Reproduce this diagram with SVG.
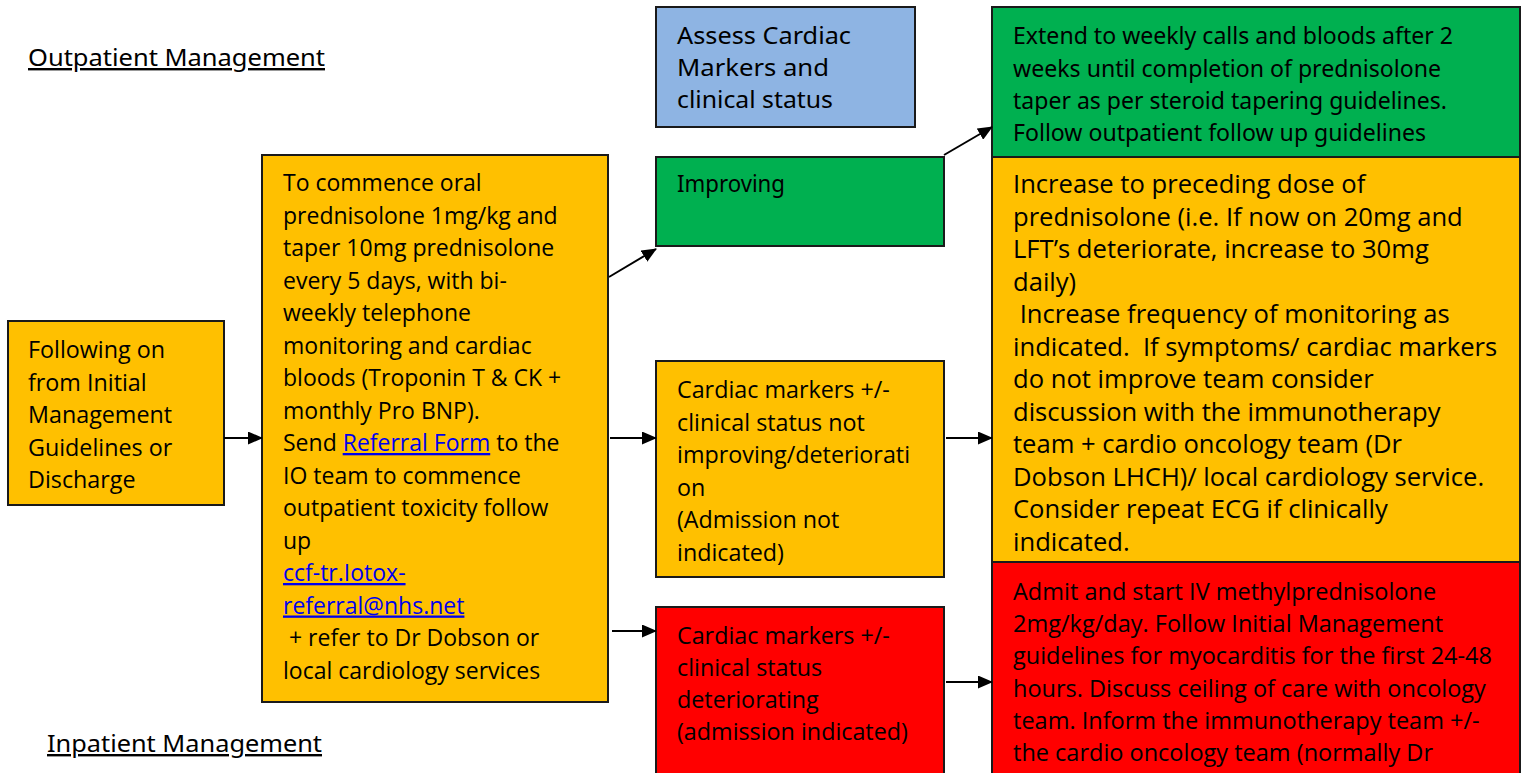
<svg xmlns="http://www.w3.org/2000/svg" width="1525" height="773" viewBox="0 0 1525 773">
<style>
.box{stroke:#1a1a1a;stroke-width:2}
.or{fill:#FFC000}.gr{fill:#00B050}.rd{fill:#FF0000}.bl{fill:#8EB4E3}
.t{font-family:"Open Sans","Noto Sans",sans-serif;font-size:23.3px;fill:#000;white-space:pre}
.big{font-size:25.6px}
.c{font-family:"Noto Sans","Open Sans",sans-serif;font-size:24px;fill:#000}
.lk{fill:#0000EE;text-decoration:underline}
.con{stroke:#000;stroke-width:2;fill:none;marker-end:url(#ah)}
</style>
<defs>
<marker id="ah" viewBox="0 0 15 13" refX="14" refY="6.5" markerWidth="15" markerHeight="13" markerUnits="userSpaceOnUse" orient="auto">
<path d="M0,0 L15,6.5 L0,13 z" fill="#000"/>
</marker>
</defs>
<rect width="1525" height="773" fill="#fff"/>

<g id="title-outpatient">
<text class="c" x="28" y="66" textLength="297" lengthAdjust="spacingAndGlyphs" style="text-decoration:underline">Outpatient Management</text>
</g>
<g id="title-inpatient">
<text class="c" x="47" y="752" textLength="275" lengthAdjust="spacingAndGlyphs" style="text-decoration:underline">Inpatient Management</text>
</g>

<g id="n-assess">
<rect class="box bl" x="656" y="7" width="259" height="120"/>
<text class="c"><tspan x="677" y="44" textLength="174" lengthAdjust="spacingAndGlyphs">Assess Cardiac</tspan><tspan x="677" y="76" textLength="152" lengthAdjust="spacingAndGlyphs">Markers and</tspan><tspan x="677" y="108" textLength="156" lengthAdjust="spacingAndGlyphs">clinical status</tspan></text>
</g>

<g id="n-extend">
<rect class="box gr" x="992" y="7" width="528" height="150"/>
<text class="c"><tspan x="1013" y="44" textLength="440" lengthAdjust="spacingAndGlyphs">Extend to weekly calls and bloods after 2</tspan><tspan x="1013" y="77" textLength="428" lengthAdjust="spacingAndGlyphs">weeks until completion of prednisolone</tspan><tspan x="1013" y="109" textLength="434" lengthAdjust="spacingAndGlyphs">taper as per steroid tapering guidelines.</tspan><tspan x="1013" y="141" textLength="413" lengthAdjust="spacingAndGlyphs">Follow outpatient follow up guidelines</tspan></text>
</g>

<g id="n-improving">
<rect class="box gr" x="656" y="157" width="288" height="89"/>
<text class="c" x="677" y="192" textLength="108" lengthAdjust="spacingAndGlyphs">Improving</text>
</g>

<g id="n-following">
<rect class="box or" x="8" y="321" width="216" height="184"/>
<text class="t"><tspan x="28" y="358">Following on</tspan><tspan x="28" y="390.5">from Initial</tspan><tspan x="28" y="423">Management</tspan><tspan x="28" y="455.5">Guidelines or</tspan><tspan x="28" y="488">Discharge</tspan></text>
</g>

<g id="n-commence">
<rect class="box or" x="262" y="155" width="346" height="547"/>
<text class="t" style="font-size:23px"><tspan x="283" y="191">To commence oral</tspan><tspan x="283" y="223.5">prednisolone 1mg/kg and</tspan><tspan x="283" y="256">taper 10mg prednisolone</tspan><tspan x="283" y="288.5">every 5 days, with bi-</tspan><tspan x="283" y="321">weekly telephone</tspan><tspan x="283" y="353.5">monitoring and cardiac</tspan><tspan x="283" y="386">bloods (Troponin T &amp; CK +</tspan><tspan x="283" y="418.5">monthly Pro BNP).</tspan><tspan x="283" y="451">Send </tspan><tspan class="lk">Referral Form</tspan><tspan> to the</tspan><tspan x="283" y="483.5">IO team to commence</tspan><tspan x="283" y="516">outpatient toxicity follow</tspan><tspan x="283" y="548.5">up</tspan><tspan x="283" y="581" class="lk">ccf-tr.Iotox-</tspan><tspan x="283" y="613.5" class="lk">referral@nhs.net</tspan><tspan x="283" y="646"> + refer to Dr Dobson or</tspan><tspan x="283" y="678.5">local cardiology services</tspan></text>
</g>

<g id="n-notimproving">
<rect class="box or" x="656" y="361" width="288" height="216"/>
<text class="t"><tspan x="677" y="398">Cardiac markers +/-</tspan><tspan x="677" y="430.5">clinical status not</tspan><tspan x="677" y="463">improving/deteriorati</tspan><tspan x="677" y="495.5">on</tspan><tspan x="677" y="528">(Admission not</tspan><tspan x="677" y="560.5">indicated)</tspan></text>
</g>

<g id="n-deteriorating">
<rect class="box rd" x="656" y="607" width="288" height="175"/>
<text class="t"><tspan x="677" y="644">Cardiac markers +/-</tspan><tspan x="677" y="676">clinical status</tspan><tspan x="677" y="708">deteriorating</tspan><tspan x="677" y="740">(admission indicated)</tspan></text>
</g>

<g id="n-increase">
<rect class="box or" x="992" y="157" width="528" height="405"/>
<text class="t big"><tspan x="1013" y="193">Increase to preceding dose of</tspan><tspan x="1013" y="225.5">prednisolone (i.e. If now on 20mg and</tspan><tspan x="1013" y="258">LFT’s deteriorate, increase to 30mg</tspan><tspan x="1013" y="290.5">daily)</tspan><tspan x="1013" y="323"> Increase frequency of monitoring as</tspan><tspan x="1013" y="355.5">indicated.  If symptoms/ cardiac markers</tspan><tspan x="1013" y="388">do not improve team consider</tspan><tspan x="1013" y="420.5">discussion with the immunotherapy</tspan><tspan x="1013" y="453">team + cardio oncology team (Dr</tspan><tspan x="1013" y="485.5">Dobson LHCH)/ local cardiology service.</tspan><tspan x="1013" y="518">Consider repeat ECG if clinically</tspan><tspan x="1013" y="550.5">indicated.</tspan></text>
</g>

<g id="n-admit">
<rect class="box rd" x="992" y="562" width="528" height="220"/>
<text class="t" style="font-size:23.5px"><tspan x="1013" y="600">Admit and start IV methylprednisolone</tspan><tspan x="1013" y="632">2mg/kg/day. Follow Initial Management</tspan><tspan x="1013" y="664">guidelines for myocarditis for the first 24-48</tspan><tspan x="1013" y="697">hours. Discuss ceiling of care with oncology</tspan><tspan x="1013" y="729">team. Inform the immunotherapy team +/-</tspan><tspan x="1013" y="761">the cardio oncology team (normally Dr</tspan></text>
</g>

<g id="connectors">
<line class="con" x1="609" y1="277" x2="656" y2="249"/>
<line class="con" x1="224" y1="438" x2="262" y2="438"/>
<line class="con" x1="610" y1="438" x2="656" y2="438"/>
<line class="con" x1="612" y1="631" x2="656" y2="631"/>
<line class="con" x1="944" y1="155" x2="992" y2="127"/>
<line class="con" x1="946" y1="438" x2="992" y2="438"/>
<line class="con" x1="946" y1="682" x2="992" y2="682"/>
</g>
</svg>
